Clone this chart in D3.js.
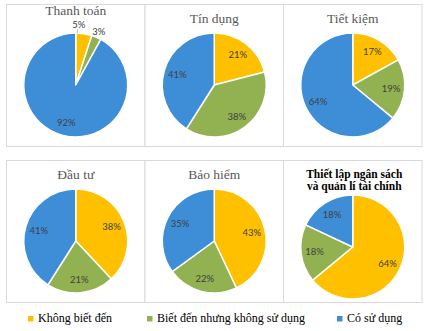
<!DOCTYPE html>
<html>
<head>
<meta charset="utf-8">
<script src="https://cdn.jsdelivr.net/npm/d3@7/dist/d3.min.js"></script>
<style>
  html, body { margin: 0; padding: 0; background: #fff; }
  svg { display: block; }
  .serif { font-family: "Liberation Serif", Tinos, "Times New Roman", serif; }
  .lbl { font-family: Lato, "Liberation Sans", sans-serif; }
</style>
</head>
<body>
<svg id="chart" width="426" height="331"></svg>
<script>
// Survey shares (%) for each financial service
const categories = ["Không biết đến", "Biết đến nhưng không sử dụng", "Có sử dụng"];
const panelTitles = [
  ["Thanh toán"],
  ["Tín dụng"],
  ["Tiết kiệm"],
  ["Đầu tư"],
  ["Bảo hiểm"],
  ["Thiết lập ngân sách", "và quản lí tài chính"]
];
const khongBietDen = [5, 21, 17, 38, 43, 64];
const bietDenKhongSuDung = [3, 38, 19, 21, 22, 18];
const coSuDung = [92, 41, 64, 41, 35, 18];
const colors = ["#FFC000", "#92B150", "#3D8ED7"];

const svg = d3.select("#chart");

// grid of panels
const colX = d3.scalePoint().domain([0, 1, 2]).range([6, 283]).padding(0);
const panelW = 138.5;
const rowTop = [4, 160];
const panelH = 142;

const pie = d3.pie().sort(null).value(d => d.value);
const R = 52;
const arc = d3.arc().innerRadius(0).outerRadius(R);

panelTitles.forEach((title, i) => {
  const col = i % 3, row = Math.floor(i / 3);
  const x0 = colX(col), y0 = rowTop[row];
  const g = svg.append("g");

  g.append("rect")
    .attr("x", x0 + 0.5).attr("y", y0 + 0.5)
    .attr("width", panelW).attr("height", panelH)
    .attr("fill", "#fff").attr("stroke", "#d9d9d9").attr("stroke-width", 1);

  const data = categories.map((c, k) => ({
    cat: c,
    value: [khongBietDen, bietDenKhongSuDung, coSuDung][k][i],
    color: colors[k]
  }));
  const arcs = pie(data);
  const hasOutside = arcs.some(a => a.data.value < 8);
  const multi = title.length > 1;

  const cx = x0 + panelW / 2 + 0.5;
  const cy = y0 + 81 + (multi ? 6 : 0);

  // title
  const tg = g.append("text")
    .attr("class", "serif")
    .attr("text-anchor", "middle")
    .attr("x", cx + (multi ? 1.5 : 0));
  if (multi) {
    tg.attr("font-size", 11.5).attr("font-weight", "bold").attr("fill", "#000");
    title.forEach((t, j) => {
      tg.append("tspan").attr("x", cx + 1.5).attr("y", y0 + 18 + j * 12).text(t);
    });
  } else {
    tg.attr("font-size", 13.5).attr("fill", "#595959")
      .attr("y", y0 + (hasOutside ? 11 : 19))
      .text(title[0]);
  }

  const pg = g.append("g").attr("transform", `translate(${cx},${cy})`);
  pg.selectAll("path").data(arcs).join("path")
    .attr("d", arc)
    .attr("fill", d => d.data.color)
    .attr("stroke", "#fff").attr("stroke-width", 1.5)
    .attr("stroke-linejoin", "round");

  // labels: inside for larger slices, outside for thin ones
  const inner = d3.arc().innerRadius(R * 0.74).outerRadius(R * 0.74);
  const labels = arcs.map(a => {
    const mid = (a.startAngle + a.endAngle) / 2;
    if (a.data.value < 8) {
      const lr = R * 1.12;
      return { a, out: true, x: Math.sin(mid) * lr, y: -Math.cos(mid) * lr };
    }
    const [x, y] = inner.centroid(a);
    return { a, out: false, x, y };
  });
  // keep outside labels apart
  const outs = labels.filter(l => l.out);
  for (let k = outs.length - 2; k >= 0; k--) {
    if (outs[k + 1].x - outs[k].x < 20) outs[k].x = outs[k + 1].x - 20;
    if (outs[k].y > outs[k + 1].y - 7.5) outs[k].y = outs[k + 1].y - 7.5;
  }
  labels.forEach(l => {
    if (l.out && Math.abs(l.x) < R) {
      const edgeY = -Math.sqrt(R * R - l.x * l.x);
      if (edgeY - (l.y + 5) > 3) {
        pg.append("line")
          .attr("x1", l.x - 1.5).attr("x2", l.x - 1.5)
          .attr("y1", l.y + 5).attr("y2", edgeY)
          .attr("stroke", "#a6a6a6").attr("stroke-width", 0.75);
      }
    }
    pg.append("text")
      .attr("class", "lbl")
      .attr("x", l.x).attr("y", l.y)
      .attr("text-anchor", "middle")
      .attr("dominant-baseline", "central")
      .attr("font-size", 9.5)
      .attr("fill", "#404040")
      .text(l.a.data.value + "%");
  });
});

// legend
const legendX = d3.scaleOrdinal().domain(categories).range([28, 147, 337]);
const lg = svg.append("g");
categories.forEach((c, k) => {
  lg.append("rect")
    .attr("x", legendX(c)).attr("y", 316)
    .attr("width", 5.5).attr("height", 5.5)
    .attr("fill", colors[k]);
  lg.append("text")
    .attr("class", "serif")
    .attr("x", legendX(c) + 10).attr("y", 322)
    .attr("font-size", 12).attr("fill", "#000")
    .text(c);
});
</script>
</body>
</html>
